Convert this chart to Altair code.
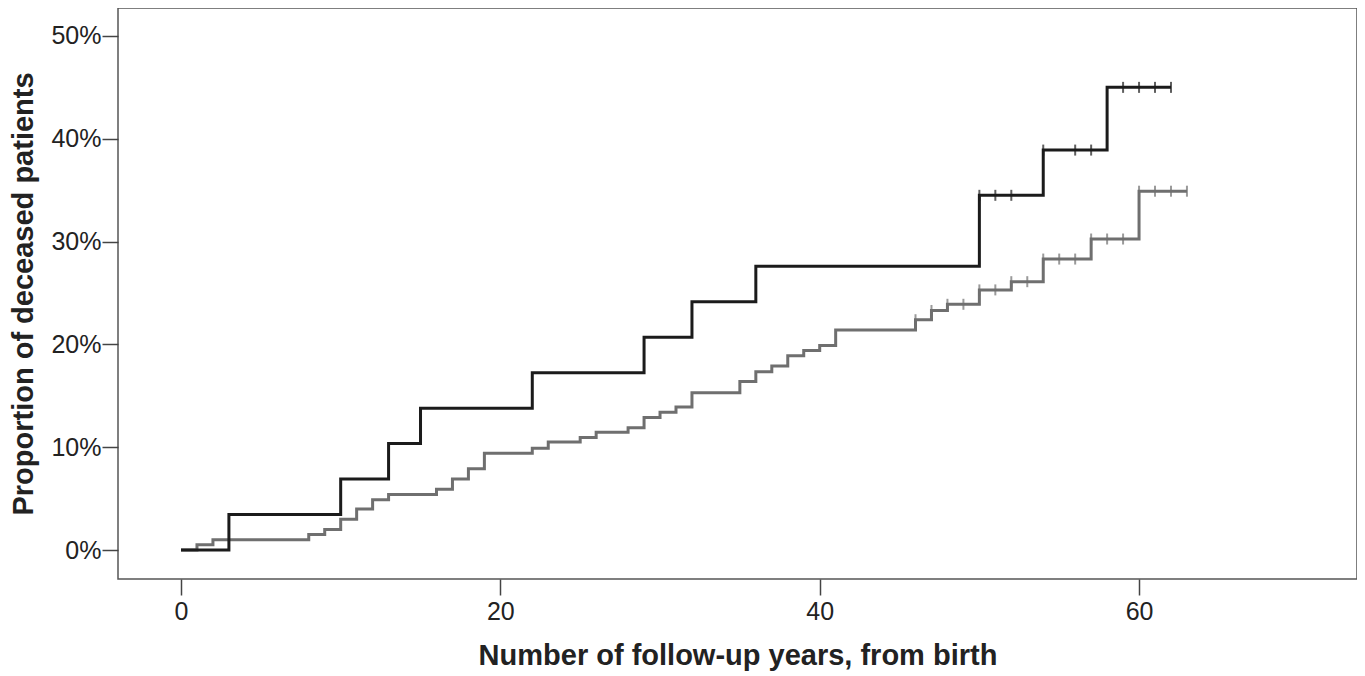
import altair as alt
import pandas as pd
import numpy as np

# Black group (Kaplan-Meier cumulative incidence, %)
black_times = [0, 3, 10, 13, 15, 22, 29, 32, 36, 50, 54, 58]
black_pct = [0, 3.45, 6.9, 10.35, 13.8, 17.25, 20.7, 24.15, 27.6, 34.5, 38.9, 45.0]
black_end = 62
black_censor = [50, 51, 52, 54, 56, 57, 59, 60, 61, 62]

# Gray group
gray_times = [0, 1, 2, 8, 9, 10, 11, 12, 13, 16, 17, 18, 19, 22, 23, 25, 26, 28, 29, 30,
              31, 32, 35, 36, 37, 38, 39, 40, 41, 46, 47, 48, 50, 52, 54, 57, 60]
gray_pct = [0, 0.5, 1.0, 1.5, 2.0, 3.0, 4.0, 4.9, 5.4, 5.9, 6.9, 7.9, 9.4, 9.9, 10.5, 10.95,
            11.45, 11.9, 12.9, 13.4, 13.9, 15.3, 16.4, 17.35, 17.9, 18.9, 19.4, 19.9, 21.4,
            22.4, 23.3, 23.9, 25.3, 26.1, 28.3, 30.25, 34.9]
gray_end = 63
gray_censor = [46, 47, 48, 49, 50, 51, 52, 53, 54, 55, 56, 57, 58, 59, 60, 61, 62, 63]

groups = ["gray", "black"]
colors = ["#6f6f6f", "#1b1b1b"]


def step_rows(name, times, pct, end):
    t = list(times) + [end]
    p = list(pct) + [pct[-1]]
    return [{"group": name, "t": a, "p": b / 100.0, "order": i} for i, (a, b) in enumerate(zip(t, p))]


def censor_rows(name, times, pct, cens):
    tarr = np.array(times)
    rows = []
    for c in cens:
        idx = int(np.searchsorted(tarr, c, side="right") - 1)
        rows.append({"group": name, "t": c, "p": pct[idx] / 100.0})
    return rows


lines = pd.DataFrame(step_rows("gray", gray_times, gray_pct, gray_end)
                     + step_rows("black", black_times, black_pct, black_end))
cens = pd.DataFrame(censor_rows("gray", gray_times, gray_pct, gray_censor)
                    + censor_rows("black", black_times, black_pct, black_censor))

FONT = "Liberation Sans"

xscale = alt.Scale(domain=[-3.946, 73.65], nice=False, zero=False)
yscale = alt.Scale(domain=[-0.0282, 0.5272], nice=False, zero=False)
cscale = alt.Scale(domain=groups, range=colors)

xaxis = alt.Axis(title="Number of follow-up years, from birth", values=[0, 20, 40, 60],
                 format="d", grid=False, domain=False, tickSize=16, tickWidth=1.5,
                 tickColor="#444", labelPadding=4, titlePadding=17)
yaxis = alt.Axis(title="Proportion of deceased patients", values=[0, 0.1, 0.2, 0.3, 0.4, 0.5],
                 format=".0%", grid=False, domain=False, tickSize=16, tickWidth=1.5,
                 tickColor="#444", labelPadding=1, titlePadding=12)

line = alt.Chart(lines).mark_line(interpolate="step-after", strokeWidth=3).encode(
    x=alt.X("t:Q", scale=xscale, axis=xaxis),
    y=alt.Y("p:Q", scale=yscale, axis=yaxis),
    color=alt.Color("group:N", scale=cscale, legend=None),
    detail="group:N",
    order="order:Q",
)

ticks = alt.Chart(cens).mark_tick(orient="vertical", size=11, thickness=2).encode(
    x=alt.X("t:Q", scale=xscale),
    y=alt.Y("p:Q", scale=yscale),
    color=alt.Color("group:N", scale=cscale, legend=None),
)

chart = alt.layer(line, ticks).properties(
    width=1239, height=571,
    autosize=alt.AutoSizeParams(type="none"),
    padding={"left": 110, "top": 0, "right": 0, "bottom": 95},
).configure_view(
    stroke="#555", strokeWidth=1.5
).configure_axis(
    labelFont=FONT, labelFontSize=25, labelColor="#222",
    titleFont=FONT, titleFontSize=29, titleFontWeight="bold", titleColor="#222",
)

chart.save("out.html", embed_options={"renderer": "svg", "actions": False})
